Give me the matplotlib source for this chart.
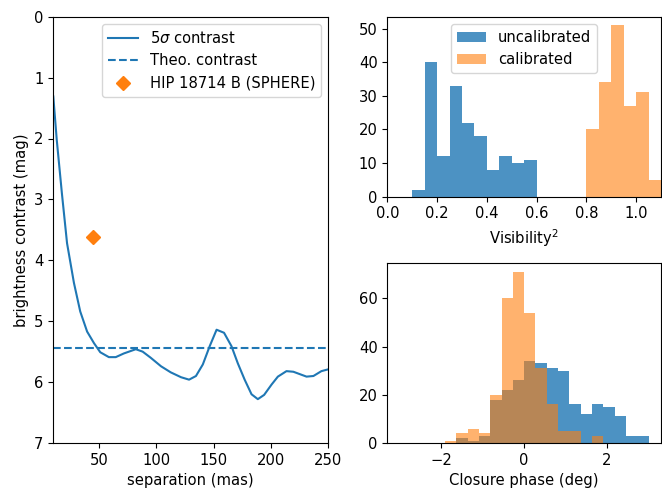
import matplotlib
matplotlib.use("Agg")
import matplotlib.pyplot as plt
import numpy as np

# contrast curve (left panel)
sep = [10, 13, 17.5, 22, 28, 33.5, 39.5, 45.5, 51, 58.5, 64.5, 71.5, 82, 88,
       95, 104, 112.5, 121.5, 128.5, 134.5, 140.5, 146.5, 152.5, 159, 165.5,
       171, 177, 183, 188.5, 194, 200.5, 206, 213.5, 219.5, 231, 237, 244, 250]
contrast = [1.31, 2.02, 2.90, 3.72, 4.37, 4.84, 5.17, 5.36, 5.51, 5.59, 5.59,
            5.53, 5.46, 5.50, 5.60, 5.74, 5.84, 5.92, 5.96, 5.90, 5.71, 5.41,
            5.14, 5.19, 5.41, 5.69, 5.96, 6.20, 6.28, 6.21, 6.04, 5.91, 5.82,
            5.83, 5.91, 5.90, 5.82, 5.79]
theo_contrast = 5.44
comp_sep = 44.5
comp_mag = 3.61

# squared visibilities
v2_edges_uncal = [0.10, 0.15, 0.20, 0.25, 0.30, 0.35, 0.40, 0.45, 0.50, 0.55, 0.60]
v2_counts_uncal = [2, 40, 12, 33, 22, 18, 8, 12, 10, 11]
v2_edges_cal = [0.80, 0.85, 0.90, 0.95, 1.00, 1.05, 1.10]
v2_counts_cal = [20, 34, 51, 27, 31, 5]

# closure phases
cp_edges = list(np.linspace(-1.91, 3.0, 19))
cp_counts_uncal = [0, 2, 1, 3, 18, 22, 26, 34, 33, 31, 30, 16, 12, 16, 15, 11, 3, 3]
cp_counts_cal = [1, 4, 6, 4, 20, 60, 71, 54, 31, 16, 5, 5, 0, 3, 0, 0, 0, 0]

plt.rcParams['font.size'] = 10.6

fig = plt.figure(figsize=(6.62, 4.88), dpi=100)
W, H = 662., 488.
ax1 = fig.add_axes([53.3/W, (H-443)/H, 275/W, 426.3/H])
ax2 = fig.add_axes([387.3/W, (H-196.7)/H, 273.7/W, 180/H])
ax3 = fig.add_axes([387.3/W, (H-443)/H, 273.7/W, 179.7/H])

ax1.plot(sep, contrast, color='C0', label=r'5$\sigma$ contrast')
ax1.axhline(theo_contrast, color='C0', ls='--', label='Theo. contrast')
ax1.plot(comp_sep, comp_mag, 'D', color='C1', ms=7, ls='none',
         label='HIP 18714 B (SPHERE)')
ax1.set_xlim(10, 250)
ax1.set_ylim(7, 0)
ax1.set_xlabel('separation (mas)')
ax1.set_ylabel('brightness contrast (mag)')
ax1.legend(loc='upper right')

ax2.hist(v2_edges_uncal[:-1], bins=v2_edges_uncal, weights=v2_counts_uncal,
         color='C0', alpha=0.8, label='uncalibrated')
ax2.hist(v2_edges_cal[:-1], bins=v2_edges_cal, weights=v2_counts_cal,
         color='C1', alpha=0.6, label='calibrated')
ax2.set_xlim(0, 1.1)
ax2.set_xlabel('Visibility$^2$')
ax2.legend(loc='upper center')

ax3.hist(cp_edges[:-1], bins=cp_edges, weights=cp_counts_uncal,
         color='C0', alpha=0.8)
ax3.hist(cp_edges[:-1], bins=cp_edges, weights=cp_counts_cal,
         color='C1', alpha=0.6)
ax3.set_xlim(-3.3, 3.3)
ax3.set_xlabel('Closure phase (deg)')

fig.savefig('out.png', dpi=100)
